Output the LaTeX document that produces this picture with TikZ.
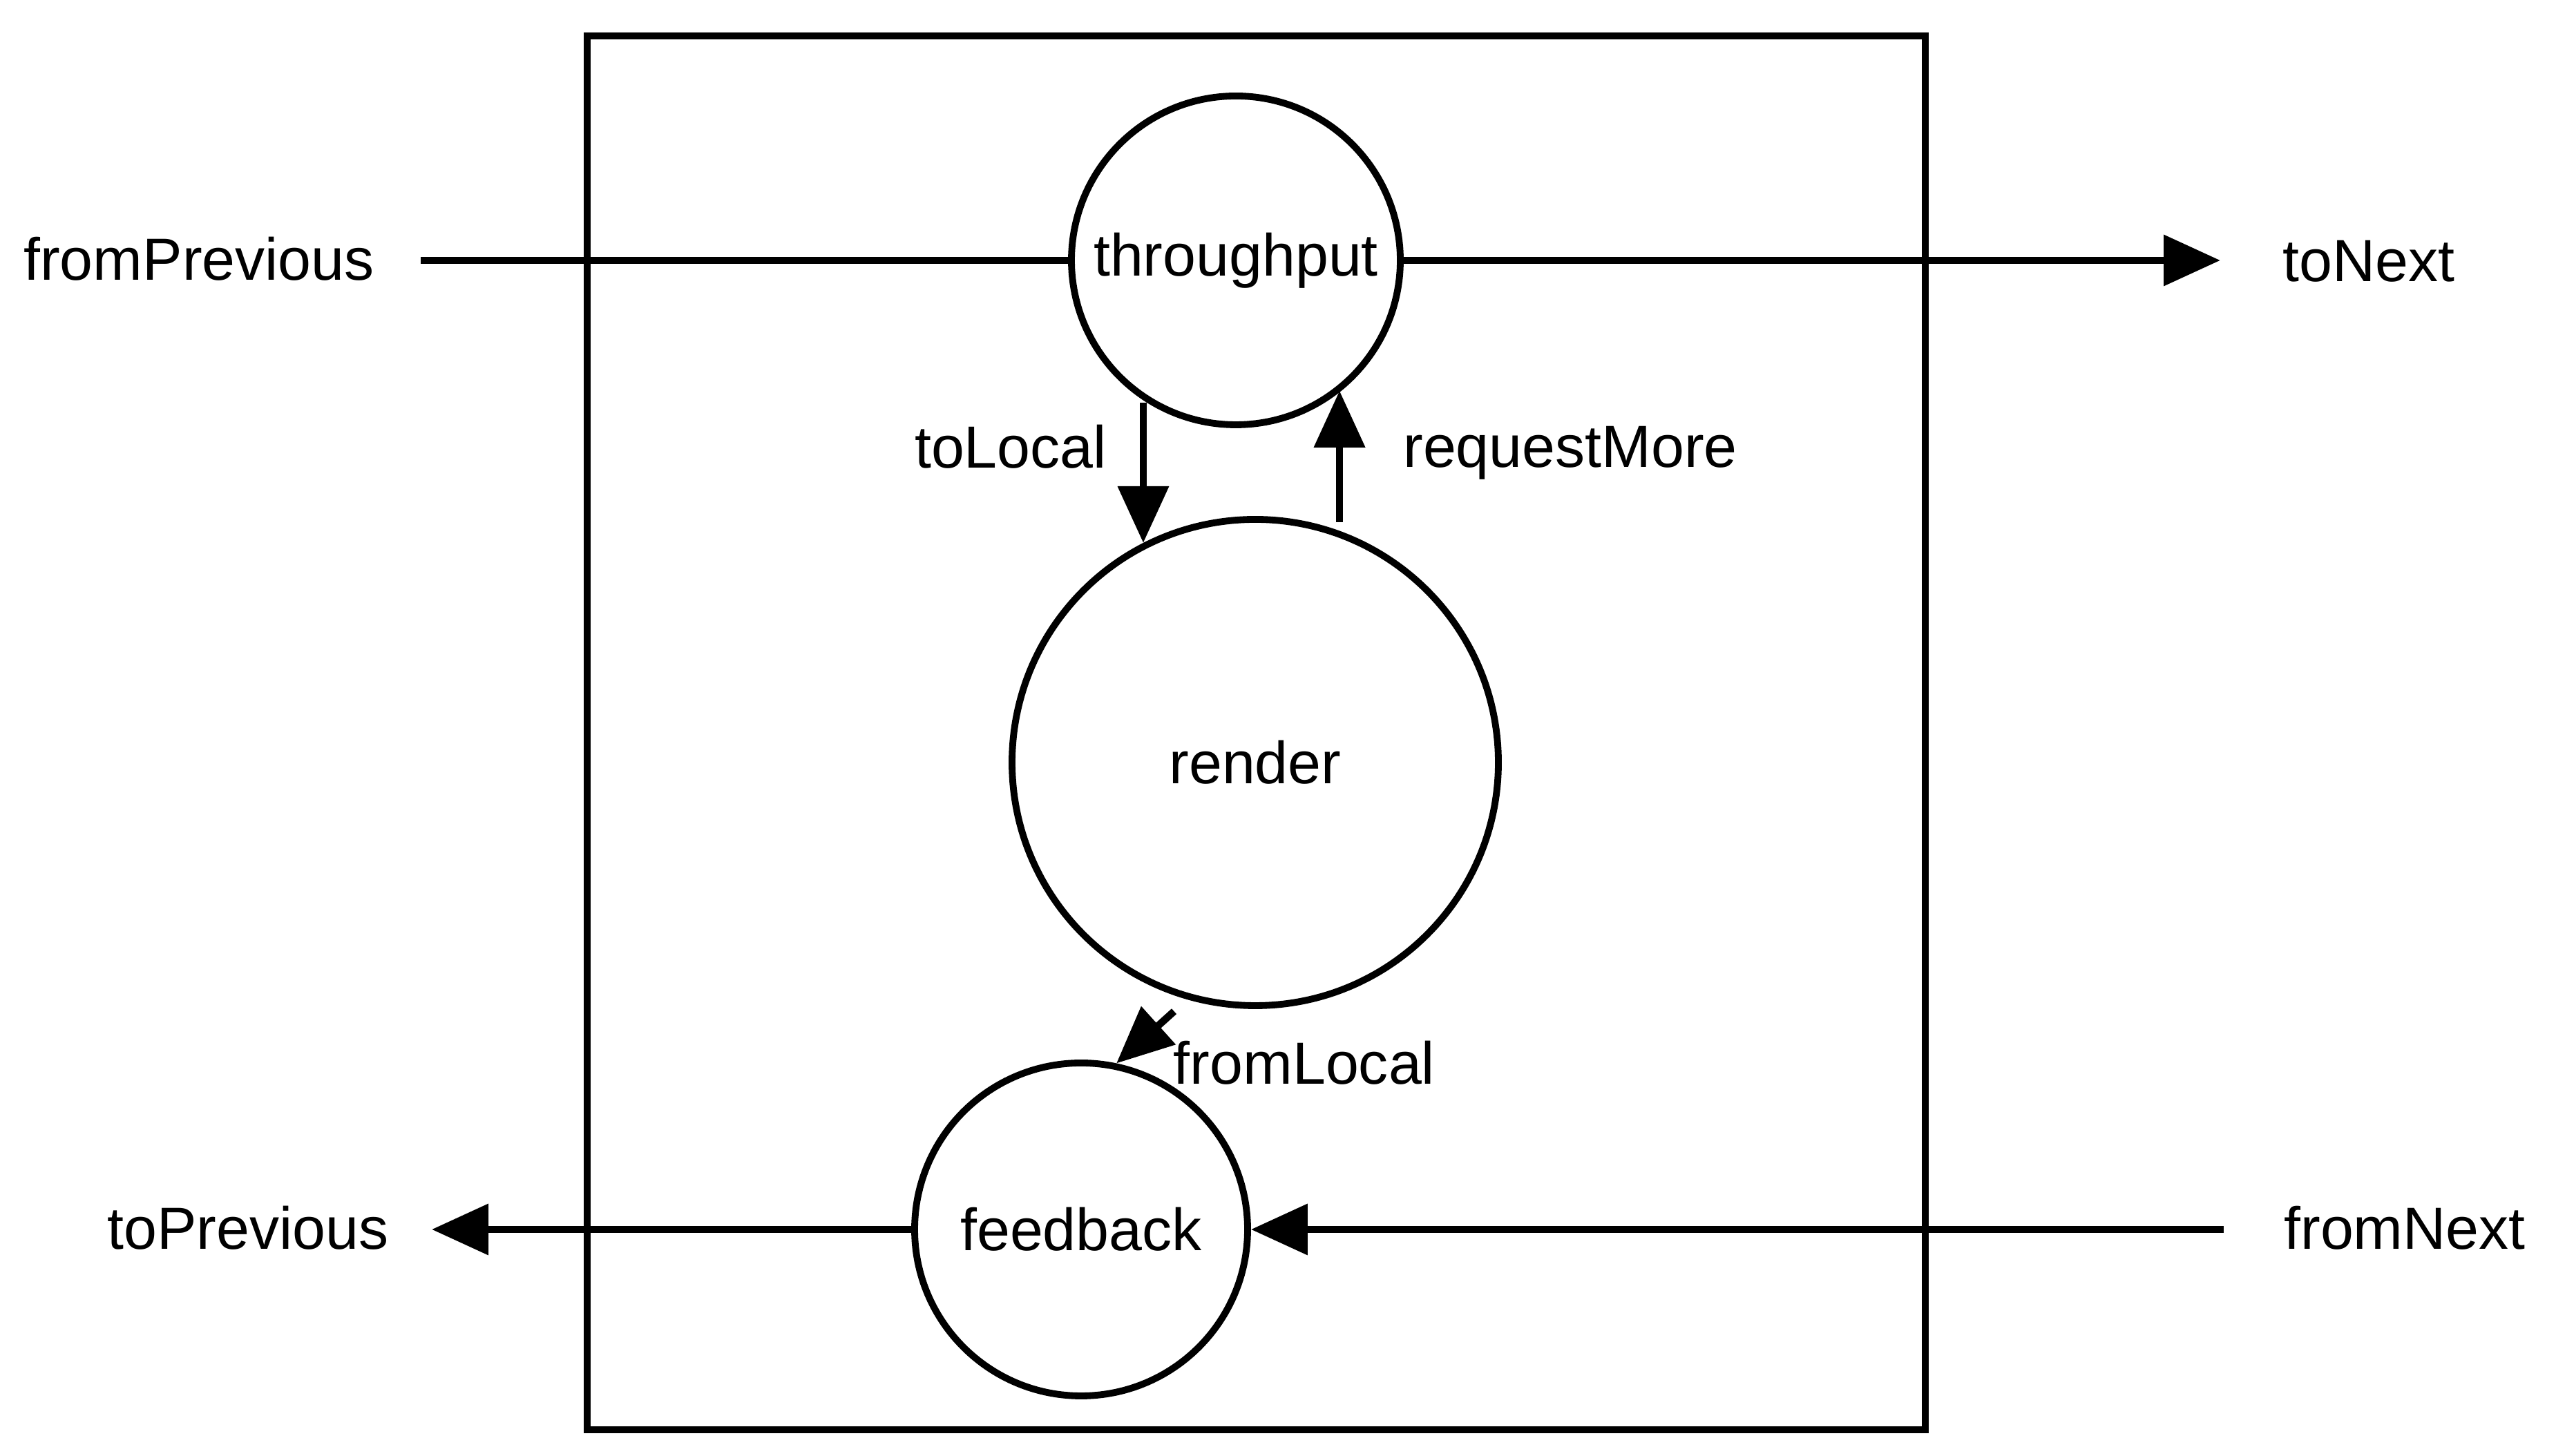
\documentclass[tikz,border=0pt]{standalone}
\usepackage{fontspec}
\setmainfont{Liberation Sans}
\usetikzlibrary{arrows.meta}

\begin{document}
\begin{tikzpicture}[>={Triangle[length=8.2mm,width=7.2mm]},line width=3pt,
                    font=\fontsize{24.5}{29}\selectfont,
                    proc node/.style={circle,draw,line width=2.8pt,inner sep=0pt}]
\useasboundingbox (0,0) rectangle (37,21.08);
\draw (8.50,0.38) rectangle (27.87,20.56);

\node[proc node,minimum size=4.76cm] (throughput) at (17.89,17.31) {throughput};
\node[proc node,minimum size=7.04cm] (render) at (18.17,10.04) {render};
\node[proc node,minimum size=4.82cm] (feedback) at (15.65,3.28) {feedback};

\node (fromPrevious) at (2.88,17.33) {fromPrevious};
\node (toNext) at (34.29,17.30) {toNext};
\node (toPrevious) at (3.59,3.30) {toPrevious};
\node (fromNext) at (34.81,3.30) {fromNext};
\node (toLocal) at (14.63,14.61) {toLocal};
\node (requestMore) at (22.73,14.52) {requestMore};
\node (fromLocal) at (18.88,5.69) {fromLocal};

\coordinate (prevIn) at (6.09,17.31);
\coordinate (nextOut) at (32.14,17.31);
\coordinate (nextIn) at (32.19,3.28);
\coordinate (prevOut) at (6.25,3.28);

\draw (prevIn) -- (throughput);
\draw[->] (throughput) -- (nextOut);
\draw[->] (nextIn) -- (feedback);
\draw[->] (feedback) -- (prevOut);

\draw[->] (render.117 |- throughput.238) -- (render.117);
\draw[->] ([yshift=1.3mm]render.70) -- (render.70 |- throughput.309);
\draw[->] ([shift={(251:0.22)}]render.252) -- (feedback.78);
\end{tikzpicture}
\end{document}
